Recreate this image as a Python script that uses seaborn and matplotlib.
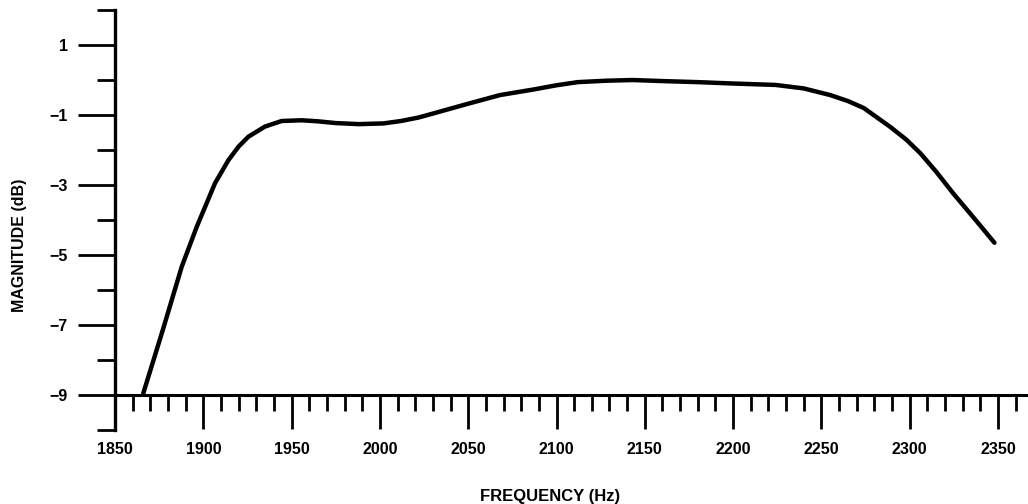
import numpy as np
import pandas as pd
import matplotlib
matplotlib.use("Agg")
import matplotlib.pyplot as plt
import seaborn as sns
from matplotlib.ticker import MultipleLocator

# values
freq_hz = [1866, 1877, 1887.8, 1896.3, 1906.6, 1914.2, 1920, 1925.5, 1934.9, 1944.4,
           1955.7, 1965, 1975, 1988, 2002, 2012, 2022, 2032, 2049, 2068,
           2087, 2100, 2112, 2128, 2143, 2160, 2180, 2200, 2224, 2240,
           2255, 2265, 2274, 2289, 2298, 2306, 2315, 2324.5, 2336, 2348]
magnitude_db = [-8.95, -7.15, -5.33, -4.19, -2.95, -2.29, -1.9, -1.62, -1.33, -1.17,
                -1.15, -1.18, -1.23, -1.26, -1.24, -1.17, -1.07, -0.93, -0.69, -0.43,
                -0.27, -0.15, -0.06, -0.02, 0.0, -0.03, -0.06, -0.1, -0.14, -0.24,
                -0.43, -0.6, -0.8, -1.34, -1.7, -2.09, -2.62, -3.23, -3.92, -4.65]

x_major = list(range(1850, 2351, 50))
y_major = [-9, -7, -5, -3, -1, 1]

df = pd.DataFrame({"freq": freq_hz, "mag": magnitude_db})

sns.set_style("ticks")
plt.rcParams["font.family"] = ["Liberation Sans", "DejaVu Sans"]
plt.rcParams["text.color"] = "black"

fig = plt.figure(figsize=(10.28, 5.04), dpi=100)
ax = fig.add_axes([0.1119, 0.1468, 0.8864, 0.8333])

sns.lineplot(data=df, x="freq", y="mag", ax=ax, color="black", linewidth=3.2)

ax.set_xlim(1850, 2366)
ax.set_ylim(-10, 2)

for side in ["top", "right"]:
    ax.spines[side].set_visible(False)
ax.spines["bottom"].set_position(("data", -9))
ax.spines["left"].set_linewidth(2.4)
ax.spines["bottom"].set_linewidth(2.2)
ax.spines["left"].set_color("black")
ax.spines["bottom"].set_color("black")

ax.set_xticks(x_major)
ax.set_xticklabels([str(v) for v in x_major])
ax.xaxis.set_minor_locator(MultipleLocator(10))
ax.set_yticks(y_major)
ax.set_yticklabels([str(v).replace("-", "\u2212") for v in y_major])
ax.yaxis.set_minor_locator(MultipleLocator(1))

ax.tick_params(axis="x", which="major", direction="out", length=24.5, width=2.0,
               pad=9, labelsize=11.5, colors="black")
ax.tick_params(axis="x", which="minor", direction="out", length=11.5, width=2.0,
               colors="black")
ax.tick_params(axis="y", which="major", direction="out", length=27, width=2.0,
               pad=7, labelsize=11.5, colors="black")
ax.tick_params(axis="y", which="minor", direction="out", length=13, width=2.0,
               colors="black")
for lbl in ax.get_xticklabels() + ax.get_yticklabels():
    lbl.set_fontweight("bold")

ax.set_xlabel("")
ax.set_ylabel("")
fig.text(0.535, 0.014, "FREQUENCY (Hz)", ha="center", va="center",
         fontsize=12, fontweight="bold", color="black")
fig.text(0.019, 0.513, "MAGNITUDE (dB)", ha="center", va="center", rotation=90,
         fontsize=11.5, fontweight="bold", color="black")

fig.savefig("out.png", dpi=100, facecolor="white")
